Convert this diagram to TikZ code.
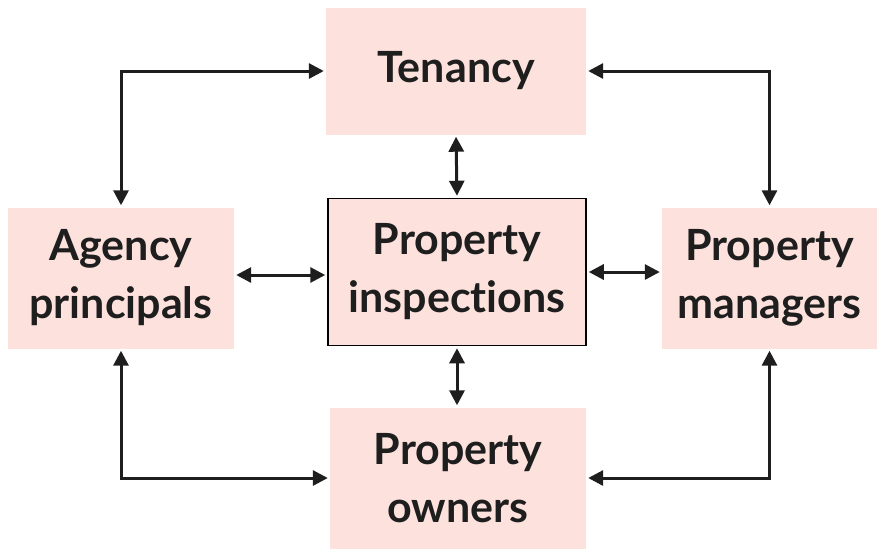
\documentclass[tikz,border=0pt]{standalone}
\usepackage{fontspec}
\setmainfont{Lato}[Ligatures={NoCommon,NoContextual}]
\usetikzlibrary{arrows.meta}

\definecolor{boxpink}{HTML}{FDE1DC}
\definecolor{inkgray}{HTML}{1E1E1E}

\tikzset{
    box/.style={fill=boxpink, inner sep=0pt, align=center, text=inkgray,
        font=\fontsize{43}{58}\selectfont\bfseries},
    link/.style={{Triangle[length=15pt,width=15pt]}-{Triangle[length=15pt,width=15pt]},
        line width=3pt, draw=inkgray, shorten <=2pt, shorten >=2pt}
}

\begin{document}
\begin{tikzpicture}[x=1pt, y=-1pt]
        \useasboundingbox (0, 0) rectangle (877, 550);

        % boxes
        \node[box, minimum width=260pt, minimum height=127pt] (tenancy) at (456, 71) {Tenancy};
        \node[box, minimum width=226pt, minimum height=141pt] (agency) at (121, 278) {Agency\\principals};
        \node[box, draw=black, line width=1.5pt, minimum width=258pt, minimum height=147pt] (inspect) at (457, 272) {Property\\inspections};
        \node[box, minimum width=215pt, minimum height=141pt] (managers) at (769.5, 278) {Property\\managers};
        \node[box, minimum width=256pt, minimum height=141pt] (owners) at (458, 478) {Property\\owners};

        % outer links
        \draw[link] (agency.north) |- (tenancy.west);
        \draw[link] (tenancy.east) -| (managers.north);
        \draw[link] (agency.south) |- (owners.west);
        \draw[link] (owners.east) -| (managers.south);

        % inner links
        \draw[link] (tenancy.south) -- (inspect.north);
        \draw[link] (inspect.south) -- (owners.north -| inspect.south);
        \draw[link] (agency.east |- 0, 275) -- (inspect.west |- 0, 275);
        \draw[link] (inspect.east |- 0, 272) -- (managers.west |- 0, 272);
    \end{tikzpicture}
\end{document}
